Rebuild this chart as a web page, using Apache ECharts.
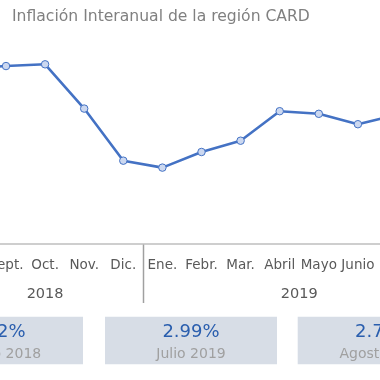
<!DOCTYPE html>
<html>
<head>
<meta charset="utf-8">
<script src="https://cdn.jsdelivr.net/npm/echarts@6/dist/echarts.min.js"></script>
<style>
html,body{margin:0;padding:0;width:380px;height:380px;overflow:hidden;background:#fff;}
#c{position:absolute;left:-120px;top:0;width:640px;height:380px;}
</style>
</head>
<body>
<div id="c"></div>
<script>
var months = ["Agosto","Sept.","Oct.","Nov.","Dic.","Ene.","Febr.","Mar.","Abril","Mayo","Junio","Julio","Agosto"];
var values = [3.52, 3.55, 3.57, 3.06, 2.46, 2.38, 2.56, 2.69, 3.03, 3.00, 2.88, 2.99, 2.75];
var years = ["2018","2019"];
var yearCounts = [5, 8];
var boxIndex = [0, 11, 12];
var boxLabels = ["Agosto 2018","Julio 2019","Agosto 2019"];
var titleText = "Inflación Interanual de la región CARD";

var FONT = "'DejaVu Sans', sans-serif";
var chart = echarts.init(document.getElementById('c'));

// second axis: half-band positions for the year labels
var halfTicks = [];
for (var i = 0; i <= months.length * 2; i++) halfTicks.push("");
var start = 0;
for (var j = 0; j < years.length; j++) {
  halfTicks[start + yearCounts[j]] = years[j];
  start += yearCounts[j] * 2;
}
var sepIndex = yearCounts[0];

var bandW = 39.1;
var gridLeft = 120 - 52.65;

var graphics = [];
var boxW = 172, boxH = 47.6, boxTop = 316.7;
var boxLefts = [31, 225, 417.7];
for (var k = 0; k < boxLabels.length; k++) {
  graphics.push({
    type: 'group', left: boxLefts[k], top: boxTop,
    children: [
      {type: 'rect', shape: {x: 0, y: 0, width: boxW, height: boxH}, style: {fill: '#d7dde6'}},
      {type: 'text', x: boxW / 2, y: 15.5, style: {text: values[boxIndex[k]].toFixed(2) + '%', fill: '#2a5eae', font: '18px ' + FONT, textAlign: 'center', textVerticalAlign: 'middle'}},
      {type: 'text', x: boxW / 2, y: 37.5, style: {text: boxLabels[k], fill: '#a0a0a0', font: '14px ' + FONT, textAlign: 'center', textVerticalAlign: 'middle'}}
    ]
  });
}

chart.setOption({
  animation: false,
  title: {
    text: titleText, left: 127, top: 4,
    textStyle: {fontFamily: FONT, fontSize: 15.6, fontWeight: 'normal', color: '#808080'}
  },
  grid: {left: gridLeft, top: 27, width: bandW * months.length, height: 217},
  xAxis: [
    {
      type: 'category', data: months, boundaryGap: true,
      axisLine: {lineStyle: {color: '#bfbfbf', width: 1.5}},
      axisTick: {show: false},
      axisLabel: {interval: 0, margin: 14, fontFamily: FONT, fontSize: 13.5, color: '#595959'}
    },
    {
      type: 'category', data: halfTicks, boundaryGap: false, position: 'bottom',
      axisLine: {show: false}, axisTick: {show: false},
      axisLabel: {interval: function (idx, v) { return v !== ""; }, margin: 43, fontFamily: FONT, fontSize: 14.5, color: '#595959'}
    }
  ],
  yAxis: {type: 'value', min: 1.5, max: 4.0, show: false, splitLine: {show: false}},
  series: [{
    type: 'line', data: values, xAxisIndex: 0,
    symbol: 'circle', symbolSize: 7.5,
    lineStyle: {color: '#4472c4', width: 2.6},
    itemStyle: {color: '#ccd8f0', borderColor: '#4472c4', borderWidth: 1}
  }],
  graphic: graphics
});

// year separator between the last 2018 month and the first 2019 month, placed via the axis scale
var xa = chart.convertToPixel({xAxisIndex: 0}, sepIndex - 1);
var xb = chart.convertToPixel({xAxisIndex: 0}, sepIndex);
var y0 = chart.convertToPixel({yAxisIndex: 0}, 1.5);
var sepX = Math.round((xa + xb) / 2) + 0.5;
graphics.push({
  type: 'line', shape: {x1: sepX, y1: y0, x2: sepX, y2: y0 + 59},
  style: {stroke: '#a0a0a0', lineWidth: 1.5}
});
chart.setOption({graphic: graphics}, {replaceMerge: ['graphic']});
</script>
</body>
</html>
